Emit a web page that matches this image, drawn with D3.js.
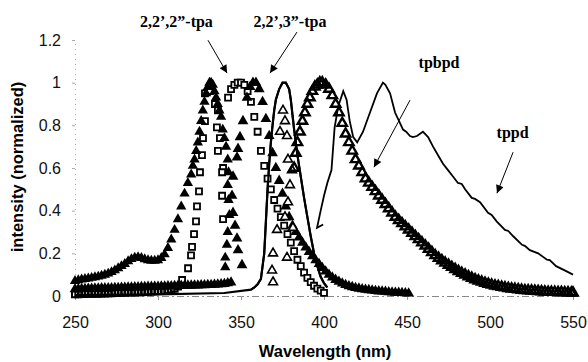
<!DOCTYPE html>
<html><head><meta charset="utf-8">
<script src="https://cdn.jsdelivr.net/npm/d3@7"></script>
<style>html,body{margin:0;padding:0;background:#fff;} svg{display:block;}</style>
</head><body>
<script>
// ---------- DATA (wavelength nm, normalized intensity) ----------
const xTicks = [250, 300, 350, 400, 450, 500, 550];
const yTicks = [0, 0.2, 0.4, 0.6, 0.8, 1, 1.2];
const yTickLabels = ["0", "0.2", "0.4", "0.6", "0.8", "1", "1.2"];
const xTitle = "Wavelength (nm)";
const yTitle = "intensity (normalized)";

// filled triangles: 2,2',2"-tpa excitation
const tpa222Exc = [[250,0.070],[252,0.074],[254,0.077],[256,0.080],[258,0.082],[260,0.085],[262,0.088],[264,0.091],[266,0.095],[268,0.100],[270,0.105],[272,0.112],[274,0.120],[276,0.130],[278,0.140],[280,0.150],[282,0.163],[284,0.173],[286,0.180],[288,0.182],[290,0.178],[292,0.172],[294,0.168],[296,0.165],[298,0.165],[300,0.168],[302,0.178],[304,0.195],[306,0.225],[308,0.265],[310,0.310],[312,0.360],[314,0.420],[316,0.480],[318,0.530],[320,0.570],[321,0.610],[322,0.640],[323,0.680],[324,0.720],[325,0.770],[326,0.820],[327,0.870],[328,0.910],[329,0.950],[330,0.980],[331,1.000],[332,1.000],[333,0.990],[334,0.960],[335,0.930],[336,0.900],[337,0.870],[338,0.840],[339,0.780],[340,0.740],[341,0.700],[342,0.640],[342.5,0.580],[342,0.520],[342.5,0.450],[343,0.380],[342,0.300],[341.5,0.240],[340.5,0.180],[340.5,0.135]];

// filled triangles: 2,2',2"-tpa emission
const tpa222Em = [[250,0.032],[252,0.032],[254,0.033],[256,0.033],[258,0.034],[260,0.034],[262,0.035],[264,0.035],[266,0.036],[268,0.036],[270,0.037],[272,0.037],[274,0.038],[276,0.038],[278,0.039],[280,0.039],[282,0.040],[284,0.040],[286,0.041],[288,0.041],[290,0.042],[292,0.042],[294,0.043],[296,0.043],[298,0.044],[300,0.044],[302,0.045],[304,0.045],[306,0.046],[308,0.046],[310,0.047],[312,0.047],[314,0.048],[316,0.048],[318,0.049],[320,0.049],[322,0.050],[324,0.050],[326,0.051],[328,0.051],[330,0.052],[332,0.052],[334,0.053],[336,0.054],[338,0.055],[340,0.057],[342,0.060],[344,0.064],[350.6,0.145],[348.2,0.215],[347.6,0.270],[346.4,0.330],[345.2,0.390],[344.6,0.470],[345.2,0.560],[347.6,0.650],[348.2,0.690],[349.4,0.745],[351.2,0.820],[353.6,0.930],[355.5,0.980],[357.2,1.000],[359,1.000],[361,0.970],[363,0.910],[365,0.830],[367,0.750],[369,0.670],[371,0.600],[373,0.540],[375,0.480],[377,0.420],[379,0.370],[381,0.330],[383,0.300],[385,0.275],[387,0.250],[389,0.228],[391,0.207],[393,0.187],[395,0.168],[397,0.150],[399,0.132],[401,0.115],[403,0.100],[405,0.087],[407,0.076],[409,0.067],[411,0.059],[413,0.052],[415,0.046],[417,0.042],[419,0.038],[421,0.035],[423,0.032],[425,0.030],[427,0.028],[429,0.026],[431,0.024],[433,0.022],[435,0.021],[437,0.020],[439,0.018],[441,0.017],[443,0.016],[445,0.015],[447,0.014],[449,0.013],[451,0.012]];

// open squares: 2,2',3"-tpa excitation (flat part, then sparse rise/fall)
const tpa223ExcBase = [[250,0.008],[252,0.008],[254,0.009],[256,0.009],[258,0.010],[260,0.010],[262,0.011],[264,0.011],[266,0.012],[268,0.012],[270,0.013],[272,0.013],[274,0.014],[276,0.014],[278,0.015],[280,0.015],[282,0.016],[284,0.016],[286,0.017],[288,0.017],[290,0.018],[292,0.019],[294,0.020],[296,0.021],[298,0.022],[300,0.023],[302,0.024],[304,0.025],[306,0.027],[308,0.030],[310,0.034],[312,0.045]];
const tpa223ExcPeak = [[314.5,0.075],[318.1,0.130],[319.9,0.190],[320.5,0.230],[321.7,0.290],[322.9,0.350],[323.5,0.420],[324.7,0.490],[325.3,0.580],[326.5,0.660],[327.1,0.740],[328.3,0.820],[328.3,0.950],[331.3,0.960],[334.3,0.900],[336.1,0.870],[335.5,0.790],[337.3,0.740],[336.1,0.680],[339.2,0.600],[338.6,0.580],[338.6,0.470],[339.2,0.360]];

// open squares: 2,2',3"-tpa emission
const tpa223Em = [[342.2,0.930],[344,0.970],[346,0.990],[348,1.000],[350,1.000],[352,0.990],[354,0.960],[356,0.910],[358,0.840],[360,0.770],[362,0.680],[364,0.610],[366,0.550],[368,0.500],[370,0.450],[372,0.410],[374,0.370],[376,0.330],[378,0.290],[380,0.250],[382,0.210],[384,0.170],[386,0.140],[388,0.110],[390,0.085],[392,0.065],[394,0.048],[396,0.035],[398,0.025],[400,0.015]];

// open triangles: tpbpd excitation (sparse)
const tpbpdExc = [[375.3,0.87],[376.5,0.82],[373.5,0.77],[377.7,0.75],[378.3,0.64],[380.7,0.59],[379.5,0.52],[378.3,0.44],[376.5,0.37],[381.3,0.32],[371.7,0.31],[369.3,0.20],[377.7,0.18],[368.7,0.12],[369.3,0.065]];

// open triangles: tpbpd emission
const tpbpdEm = [[382,0.60],[383,0.67],[384,0.72],[385.5,0.77],[387,0.82],[388.5,0.86],[390,0.90],[391.5,0.93],[393,0.96],[394.5,0.98],[396,0.99],[397.5,1.00],[399,1.00],[401,0.99],[403,0.97],[405,0.94],[407,0.90],[409,0.86],[411,0.81],[413,0.76],[415,0.72],[417,0.68],[419,0.64],[421,0.61],[423,0.58],[425,0.55],[427,0.53],[429,0.51],[431,0.49],[433,0.47],[435,0.45],[437,0.43],[439,0.41],[441,0.39],[443,0.37],[445,0.355],[447,0.34],[449,0.325],[451,0.31],[453,0.295],[455,0.28],[457,0.265],[459,0.25],[461,0.235],[463,0.22],[465,0.205],[467,0.19],[469,0.178],[471,0.166],[473,0.155],[475,0.145],[477,0.135],[479,0.125],[481,0.116],[483,0.107],[485,0.099],[487,0.091],[489,0.084],[491,0.077],[493,0.071],[495,0.066],[497,0.061],[499,0.056],[501,0.052],[503,0.048],[505,0.045],[507,0.042],[509,0.039],[511,0.036],[513,0.034],[515,0.032],[517,0.030],[519,0.028],[521,0.026],[523,0.025],[525,0.024],[527,0.023],[529,0.022],[531,0.021],[533,0.020],[535,0.019],[537,0.018],[539,0.018],[541,0.017],[543,0.017],[545,0.016],[547,0.016],[549,0.015],[550,0.015]];

// solid line: excitation band (peak ~376 nm)
const lineExc = [[250,0.004],[300,0.008],[340,0.014],[356,0.030],[358,0.040],[360,0.055],[362,0.080],[364,0.200],[365,0.350],[366,0.500],[367,0.620],[368,0.720],[369,0.800],[370,0.870],[371,0.920],[373,0.970],[375,1.000],[377,1.000],[379,0.970],[380,0.920],[381,0.850],[382,0.780],[383,0.720],[384,0.660],[386,0.560],[388,0.460],[390,0.370],[392,0.280],[394,0.200],[396,0.140],[398,0.090],[400,0.060],[402,0.040]];

// solid line: tppd emission
const tppdEm = [[399.5,0.335],[395.8,0.320],[398,0.400],[400,0.470],[402,0.530],[404.5,0.590],[406.4,0.790],[408.6,0.890],[411.6,0.960],[413.6,0.920],[415.5,0.820],[417.6,0.745],[420,0.720],[423.5,0.770],[427.7,0.860],[431.9,0.950],[435.5,1.000],[437,0.990],[439.8,0.950],[442.8,0.860],[445.8,0.810],[447.6,0.780],[449.5,0.770],[451.8,0.750],[453.6,0.745],[456,0.750],[459.6,0.770],[462.7,0.745],[465.7,0.700],[468.7,0.660],[471.7,0.620],[474.7,0.590],[477.7,0.560],[480.7,0.530],[483,0.525],[485,0.500],[489,0.460],[491,0.455],[494,0.440],[498.8,0.390],[501,0.380],[504,0.350],[509,0.310],[511,0.305],[514,0.280],[519.3,0.240],[521,0.235],[524,0.215],[529,0.200],[534.3,0.170],[536,0.168],[539.8,0.140],[545,0.120],[550,0.100]];

// annotations (label text, position in data units)
const labelTexts = ["2,2\u2019,2\u201d-tpa", "2,2\u2019,3\u201d-tpa", "tpbpd", "tppd"];
const labelNm = [311.1, 379.5, 469.3, 513.6];
const labelVal = [1.26, 1.26, 1.068, 0.74];
const arrowFrom = [[330.1,1.199],[383.7,1.237],[451.8,0.918],[513.9,0.674]];
const arrowTo = [[341.6,1.045],[367.5,1.045],[430.1,0.604],[504.2,0.482]];

// ---------- DRAW ----------
const W = 588, H = 362;
const x = d3.scaleLinear().domain([250, 550]).range([75, 573]);
const y = d3.scaleLinear().domain([0, 1.2]).range([296, 40]);

const svg = d3.select("body").append("svg").attr("width", W).attr("height", H)
  .style("font-family", "'Liberation Sans', Arial, sans-serif");

// axes
const xAxis = svg.append("g").attr("transform", `translate(0,${y(0)})`)
  .call(d3.axisBottom(x).tickValues(xTicks).tickFormat(d3.format("d")).tickSize(4).tickPadding(17));
xAxis.select(".domain").attr("stroke", "#888").attr("stroke-dasharray", "7,3,2,3");
xAxis.selectAll(".tick line").attr("stroke", "#999");
xAxis.selectAll("text").attr("font-size", 16).attr("fill", "#111");

const yAxis = svg.append("g").attr("transform", `translate(${x(250)},0)`)
  .call(d3.axisLeft(y).tickValues(yTicks).tickFormat((d, i) => yTickLabels[i]).tickSize(3).tickPadding(11));
yAxis.select(".domain").attr("stroke", "#aaa").attr("stroke-dasharray", "1,4");
yAxis.selectAll(".tick line").attr("stroke", "#aaa");
yAxis.selectAll("text").attr("font-size", 16).attr("fill", "#111");

// titles
svg.append("text").attr("x", 325).attr("y", 357).attr("text-anchor", "middle")
  .attr("font-size", 16.5).attr("font-weight", "bold").text(xTitle);
svg.append("text").attr("transform", "translate(23,167) rotate(-90)").attr("text-anchor", "middle")
  .attr("font-size", 16.5).attr("font-weight", "bold").text(yTitle);

const plot = svg.append("g");
const tri = d3.symbol().type(d3.symbolTriangle);
const sq = d3.symbol().type(d3.symbolSquare);

function scatter(data, sym, size, fill, stroke, sw) {
  plot.append("g").selectAll("path").data(data).join("path")
    .attr("transform", d => `translate(${x(d[0])},${y(d[1])})`)
    .attr("d", sym.size(size)())
    .attr("fill", fill).attr("stroke", stroke).attr("stroke-width", sw);
}
const line = d3.line().x(d => x(d[0])).y(d => y(d[1]));
plot.append("path").datum(lineExc).attr("d", line).attr("fill", "none").attr("stroke", "#000").attr("stroke-width", 2.2);

scatter(tpa223ExcBase, sq, 36, "none", "#000", 2);
scatter(tpa223ExcPeak, sq, 36, "#fff", "#000", 1.8);
scatter(tpa222Exc, tri, 46, "#000", "none", 0);
scatter(tpa223Em, sq, 36, "#fff", "#000", 1.8);
scatter(tpa222Em, tri, 50, "#000", "none", 0);
scatter(tpbpdExc, tri, 34, "#fff", "#000", 1.6);
scatter(tpbpdEm, tri, 38, "none", "#000", 2.4);

plot.append("path").datum(lineExc.filter(d => d[0] >= 356)).attr("d", line).attr("fill", "none").attr("stroke", "#000").attr("stroke-width", 2);
plot.append("path").datum(tppdEm).attr("d", line).attr("fill", "none").attr("stroke", "#000").attr("stroke-width", 1.8);

// annotations
svg.append("defs").append("marker").attr("id", "ah").attr("viewBox", "0 0 10 10")
  .attr("refX", 10).attr("refY", 5).attr("markerWidth", 9).attr("markerHeight", 8)
  .attr("markerUnits", "userSpaceOnUse").attr("orient", "auto")
  .append("path").attr("d", "M0,0 L10,5 L0,10 Z").attr("fill", "#000");
const ann = svg.append("g");
arrowFrom.forEach((f, i) => {
  ann.append("line").attr("x1", x(f[0])).attr("y1", y(f[1]))
    .attr("x2", x(arrowTo[i][0])).attr("y2", y(arrowTo[i][1]))
    .attr("stroke", "#000").attr("stroke-width", 1).attr("marker-end", "url(#ah)");
});
labelTexts.forEach((t, i) => {
  ann.append("text").attr("x", x(labelNm[i])).attr("y", y(labelVal[i]))
    .attr("text-anchor", "middle").attr("font-family", "'Liberation Serif', 'Times New Roman', serif")
    .attr("font-weight", "bold").attr("font-size", 16).text(t);
});
</script>
</body></html>
